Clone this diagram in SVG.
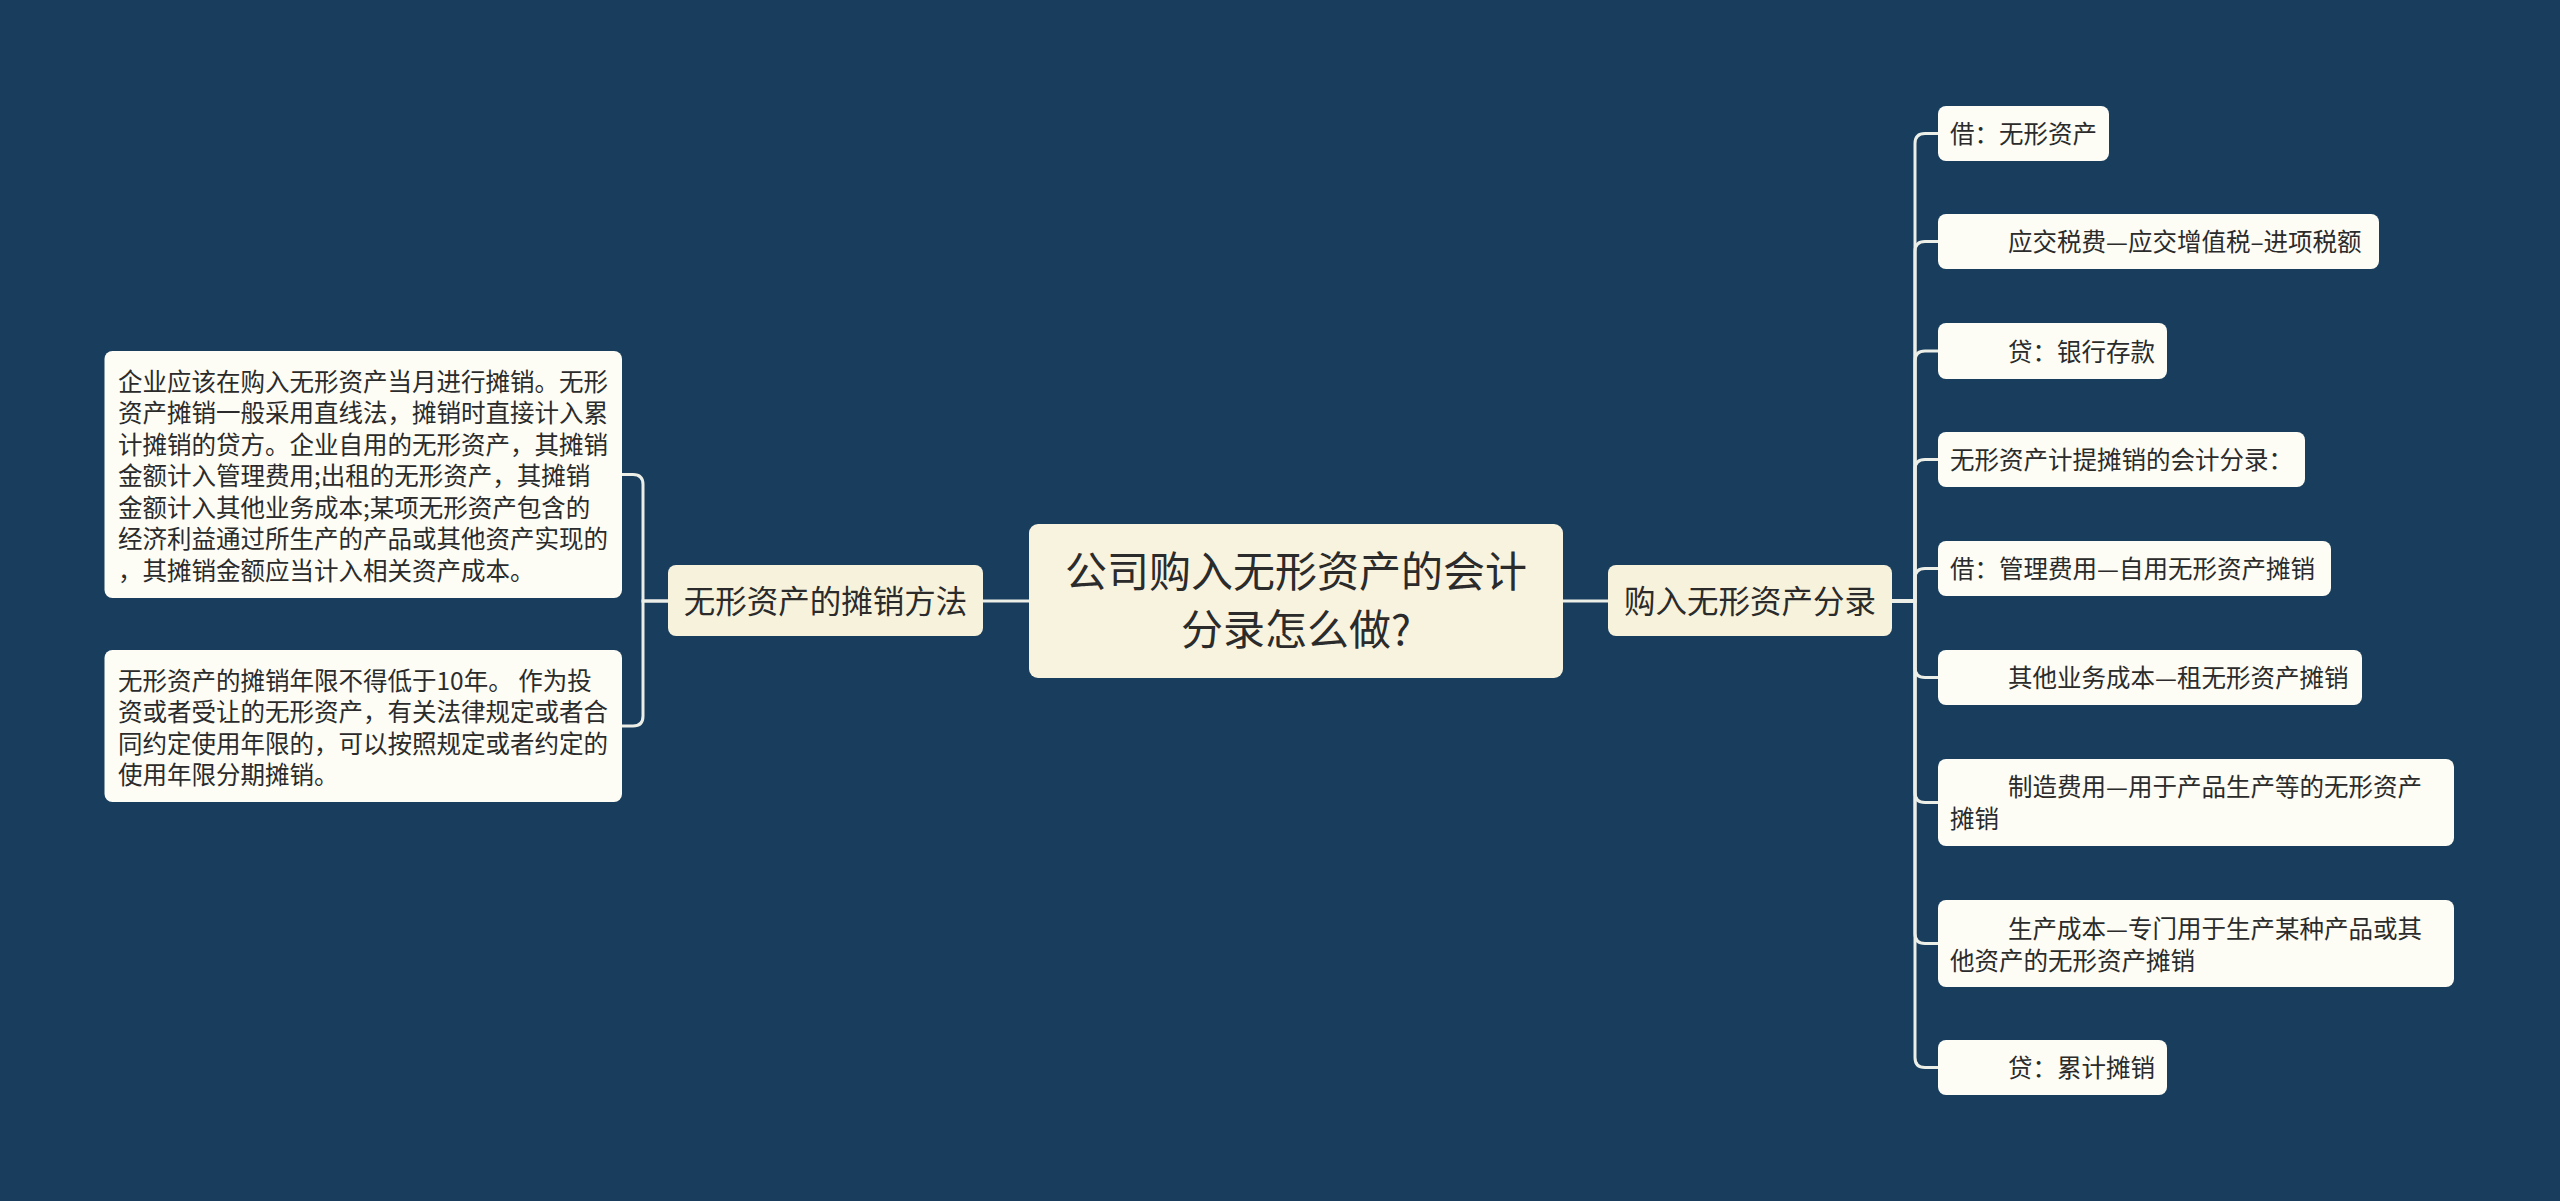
<svg xmlns="http://www.w3.org/2000/svg" width="2560" height="1201" viewBox="0 0 2560 1201">
<defs>
<style>
.bg{fill:#193d5c}
.link{fill:none;stroke:#eceee8;stroke-width:3}
.root{fill:#f8f3de}
.mid{fill:#f7f2dc}
.leaf{fill:#fdfdf6}
text{font-family:"Noto Sans CJK SC","Noto Sans",sans-serif;fill:#2b2b2b}
.t42{font-size:42px}
.t31{font-size:31.5px}
.t24{font-size:24.5px}
</style>
</defs>
<rect class="bg" x="0" y="0" width="2560" height="1201"/>
<g id="connectors">
<path class="link" d="M1029,601 H983"/>
<path class="link" d="M668,601 H643 V484.5 Q643,474.5 633,474.5 H622"/>
<path class="link" d="M668,601 H643 V716 Q643,726 633,726 H622"/>
<path class="link" d="M1563,601 H1608"/>
<path class="link" d="M1892,601 H1915 V143.5 Q1915,133.5 1925,133.5 H1938"/>
<path class="link" d="M1892,601 H1915 V251.5 Q1915,241.5 1925,241.5 H1938"/>
<path class="link" d="M1892,601 H1915 V361 Q1915,351 1925,351 H1938"/>
<path class="link" d="M1892,601 H1915 V469.5 Q1915,459.5 1925,459.5 H1938"/>
<path class="link" d="M1892,601 H1915 V578.5 Q1915,568.5 1925,568.5 H1938"/>
<path class="link" d="M1892,601 H1915 V667.5 Q1915,677.5 1925,677.5 H1938"/>
<path class="link" d="M1892,601 H1915 V792.5 Q1915,802.5 1925,802.5 H1938"/>
<path class="link" d="M1892,601 H1915 V933.5 Q1915,943.5 1925,943.5 H1938"/>
<path class="link" d="M1892,601 H1915 V1057.5 Q1915,1067.5 1925,1067.5 H1938"/>
</g>
<g id="root">
<rect class="root" x="1029" y="524" width="534" height="154" rx="9"/>
<text class="t42" x="1296" y="587" text-anchor="middle">公司购入无形资产的会计</text>
<text class="t42" x="1296" y="645" text-anchor="middle">分录怎么做?</text>
</g>
<g id="left-main">
<rect class="mid" x="668" y="565" width="315" height="71" rx="8"/>
<text class="t31" x="825.5" y="613" text-anchor="middle">无形资产的摊销方法</text>
</g>
<g id="left-leaf-1">
<rect class="leaf" x="104.5" y="351" width="517.5" height="247" rx="8"/>
<text class="t24" x="118" y="390.5">企业应该在购入无形资产当月进行摊销。无形</text>
<text class="t24" x="118" y="422">资产摊销一般采用直线法，摊销时直接计入累</text>
<text class="t24" x="118" y="453.5">计摊销的贷方。企业自用的无形资产，其摊销</text>
<text class="t24" x="118" y="485">金额计入管理费用;出租的无形资产，其摊销</text>
<text class="t24" x="118" y="516.5">金额计入其他业务成本;某项无形资产包含的</text>
<text class="t24" x="118" y="548">经济利益通过所生产的产品或其他资产实现的</text>
<text class="t24" x="118" y="579.5">，其摊销金额应当计入相关资产成本。</text>
</g>
<g id="left-leaf-2">
<rect class="leaf" x="104.5" y="650" width="517.5" height="152" rx="8"/>
<text class="t24" x="118" y="689.5">无形资产的摊销年限不得低于10年。 作为投</text>
<text class="t24" x="118" y="721">资或者受让的无形资产，有关法律规定或者合</text>
<text class="t24" x="118" y="752.5">同约定使用年限的，可以按照规定或者约定的</text>
<text class="t24" x="118" y="784">使用年限分期摊销。</text>
</g>
<g id="right-main">
<rect class="mid" x="1608" y="565" width="284" height="71" rx="8"/>
<text class="t31" x="1750" y="613" text-anchor="middle">购入无形资产分录</text>
</g>
<g id="right-leaf-1">
<rect class="leaf" x="1938" y="106" width="171" height="55" rx="8"/>
<text class="t24" x="1950" y="143">借：无形资产</text>
</g>
<g id="right-leaf-2">
<rect class="leaf" x="1938" y="214" width="441" height="55" rx="8"/>
<text class="t24" x="2008" y="251">应交税费—应交增值税–进项税额</text>
</g>
<g id="right-leaf-3">
<rect class="leaf" x="1938" y="323" width="229" height="56" rx="8"/>
<text class="t24" x="2008" y="360.5">贷：银行存款</text>
</g>
<g id="right-leaf-4">
<rect class="leaf" x="1938" y="432" width="367" height="55" rx="8"/>
<text class="t24" x="1950" y="469">无形资产计提摊销的会计分录：</text>
</g>
<g id="right-leaf-5">
<rect class="leaf" x="1938" y="541" width="393" height="55" rx="8"/>
<text class="t24" x="1950" y="578">借：管理费用—自用无形资产摊销</text>
</g>
<g id="right-leaf-6">
<rect class="leaf" x="1938" y="650" width="424" height="55" rx="8"/>
<text class="t24" x="2008" y="687">其他业务成本—租无形资产摊销</text>
</g>
<g id="right-leaf-7">
<rect class="leaf" x="1938" y="759" width="516" height="87" rx="8"/>
<text class="t24" x="2008" y="796">制造费用—用于产品生产等的无形资产</text>
<text class="t24" x="1950" y="827.5">摊销</text>
</g>
<g id="right-leaf-8">
<rect class="leaf" x="1938" y="900" width="516" height="87" rx="8"/>
<text class="t24" x="2008" y="938">生产成本—专门用于生产某种产品或其</text>
<text class="t24" x="1950" y="969.5">他资产的无形资产摊销</text>
</g>
<g id="right-leaf-9">
<rect class="leaf" x="1938" y="1040" width="229" height="55" rx="8"/>
<text class="t24" x="2008" y="1077">贷：累计摊销</text>
</g>
</svg>
